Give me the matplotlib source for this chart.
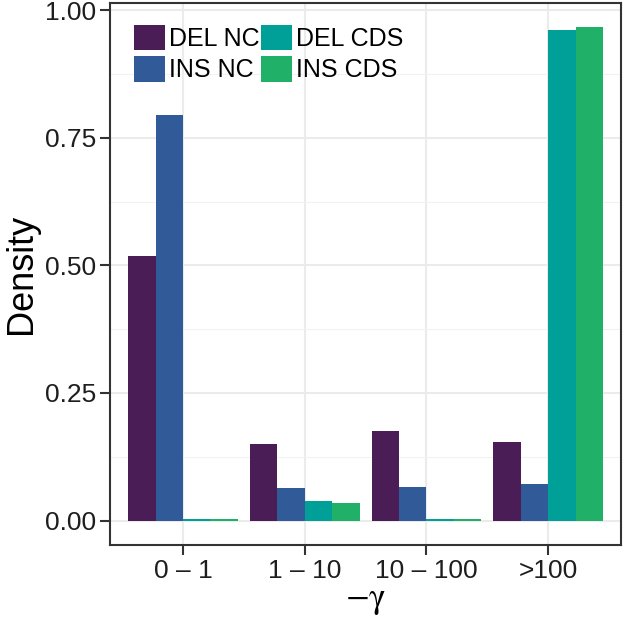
import matplotlib
matplotlib.use("Agg")
from matplotlib import pyplot as plt
from matplotlib.patches import Patch
from matplotlib.ticker import MultipleLocator
import numpy as np

plt.rcParams["font.family"] = ["Liberation Sans", "DejaVu Sans"]
plt.rcParams["mathtext.fontset"] = "stix"

categories = ["0 \u2013 1", "1 \u2013 10", "10 \u2013 100", ">100"]
series = ["DEL NC", "INS NC", "DEL CDS", "INS CDS"]
del_nc = [0.518, 0.149, 0.176, 0.153]
ins_nc = [0.794, 0.064, 0.066, 0.072]
del_cds = [0.002, 0.038, 0.002, 0.962]
ins_cds = [0.002, 0.034, 0.002, 0.967]
colors = ["#4B1D56", "#305B98", "#009F97", "#20B067"]

values = [del_nc, ins_nc, del_cds, ins_cds]

fig = plt.figure(figsize=(6.28, 6.22), dpi=100)
ax = fig.add_axes([0.1752, 0.1238, 0.814, 0.8712])

x = np.arange(1, len(categories) + 1)
width = 0.225
offsets = [-1.5, -0.5, 0.5, 1.5]
for vals, off, col in zip(values, offsets, colors):
    ax.bar(x + off * width, vals, width=width, color=col, zorder=3, linewidth=0)

ax.set_xlim(0.4, 4.6)
ax.set_xticks(x)
ax.set_xticklabels(categories)
ax.yaxis.set_major_locator(MultipleLocator(0.25))
ax.yaxis.set_minor_locator(MultipleLocator(0.125))
ax.set_ylim(-0.048, 1.014)
ax.set_yticks([0, 0.25, 0.5, 0.75, 1.0])
ax.set_yticklabels(["0.00", "0.25", "0.50", "0.75", "1.00"])

ax.grid(which="major", color="#EBEBEB", linewidth=1.5, zorder=0)
ax.grid(which="minor", axis="y", color="#F2F2F2", linewidth=0.8, zorder=0)
ax.tick_params(which="major", length=7, width=1.5, color="#333333",
               labelsize=19, labelcolor="#1E1E1E", pad=3)
ax.tick_params(which="minor", length=0)
for s in ax.spines.values():
    s.set_color("#333333")
    s.set_linewidth(1.5)

ax.set_ylabel("Density", fontsize=26, labelpad=4)
ax.set_xlabel(r"$-\mathrm{\gamma}$", fontsize=25, labelpad=1)

handles = [Patch(facecolor=c, edgecolor="none") for c in colors]
ax.legend(handles, series, ncol=2, loc="upper left",
          bbox_to_anchor=(0.047, 0.96), frameon=False, fontsize=18,
          handlelength=1.25, handleheight=1.2, handletextpad=0.15,
          labelspacing=0.2, columnspacing=0.05, borderpad=0, borderaxespad=0)

fig.savefig("out.png", dpi=100)
